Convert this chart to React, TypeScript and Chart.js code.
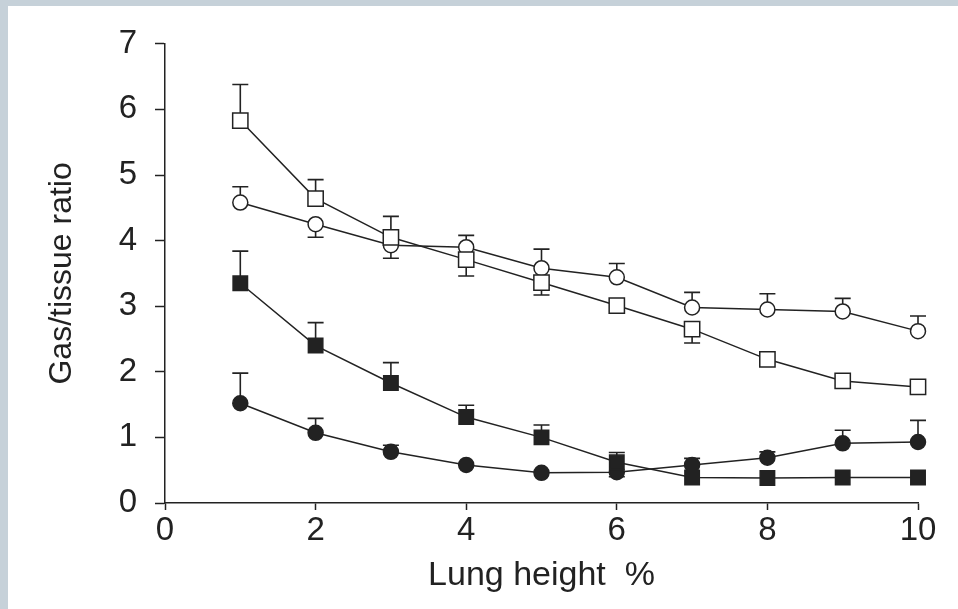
import React, { useEffect, useRef } from "react";
import { Chart, registerables } from "chart.js";

Chart.register(...registerables);

// Lung height (%) positions
const heights = [1, 2, 3, 4, 5, 6, 7, 8, 9, 10];

// Gas/tissue ratio series
const openSquare = [5.83, 4.64, 4.05, 3.71, 3.36, 3.01, 2.65, 2.19, 1.86, 1.77];
const openCircle = [4.58, 4.25, 3.93, 3.9, 3.58, 3.44, 2.98, 2.95, 2.92, 2.62];
const filledSquare = [3.35, 2.4, 1.83, 1.31, 1.0, 0.62, 0.39, 0.38, 0.39, 0.39];
const filledCircle = [1.52, 1.07, 0.78, 0.58, 0.46, 0.47, 0.58, 0.69, 0.91, 0.93];

// Error bar end values (null = no visible bar)
const openSquareErr = [6.38, 4.93, 4.37, 3.46, 3.17, null, 2.44, null, null, null];
const openCircleErr = [4.82, 4.05, 3.73, 4.08, 3.87, 3.65, 3.21, 3.19, 3.12, 2.85];
const filledSquareErr = [3.84, 2.75, 2.14, 1.49, 1.19, 0.77, null, null, null, null];
const filledCircleErr = [1.98, 1.29, 0.88, null, null, 0.4, 0.68, 0.78, 1.11, 1.26];

// Axis ticks
const xTickLabels = ["0", "2", "4", "6", "8", "10"];
const yMin = 0;
const yMax = 7;
const xMin = 0;
const xMax = 10;

const INK = "#222222";
const FONT = "'Liberation Sans', Arial, sans-serif";

const errorBarPlugin = {
  id: "errorBars",
  beforeDatasetsDraw(chart: any) {
    const ctx = chart.ctx;
    const xs = chart.scales.x;
    const ys = chart.scales.y;
    ctx.save();
    ctx.strokeStyle = INK;
    ctx.lineWidth = 1.6;
    chart.data.datasets.forEach((ds: any) => {
      const errs: (number | null)[] = ds.errEnds || [];
      ds.data.forEach((pt: any, i: number) => {
        const e = errs[i];
        if (e === null || e === undefined) return;
        const px = xs.getPixelForValue(pt.x);
        const py = ys.getPixelForValue(pt.y);
        const pe = ys.getPixelForValue(e);
        ctx.beginPath();
        ctx.moveTo(px, py);
        ctx.lineTo(px, pe);
        ctx.moveTo(px - 8, pe);
        ctx.lineTo(px + 8, pe);
        ctx.stroke();
      });
    });
    ctx.restore();
  },
};

function mk(values: number[], errs: (number | null)[], style: string, filled: boolean, radius: number) {
  return {
    data: heights.map((h, i) => ({ x: h, y: values[i] })),
    errEnds: errs,
    borderColor: INK,
    borderWidth: 1.5,
    pointStyle: style,
    pointRadius: radius,
    pointBorderWidth: 1.5,
    pointBorderColor: INK,
    pointBackgroundColor: filled ? INK : "#ffffff",
    showLine: true,
    tension: 0,
    fill: false,
    clip: false,
  };
}

export default function App() {
  const ref = useRef<HTMLCanvasElement | null>(null);

  useEffect(() => {
    if (!ref.current) return;
    const chart = new Chart(ref.current, {
      type: "scatter",
      data: {
        datasets: [
          mk(openSquare, openSquareErr, "rect", false, 10.8),
          mk(openCircle, openCircleErr, "circle", false, 7.5),
          mk(filledSquare, filledSquareErr, "rect", true, 10.2),
          mk(filledCircle, filledCircleErr, "circle", true, 7.5),
        ] as any,
      },
      options: {
        animation: false,
        responsive: false,
        maintainAspectRatio: false,
        layout: { padding: { top: 37, right: 40, bottom: 0, left: 0 } },
        plugins: {
          legend: { display: false },
          tooltip: { enabled: false },
          title: { display: false },
        },
        scales: {
          x: {
            type: "linear",
            min: xMin,
            max: xMax,
            afterFit: (s: any) => {
              s.height = 106;
            },
            ticks: {
              stepSize: 1,
              autoSkip: false,
              maxRotation: 0,
              padding: 1,
              color: INK,
              font: { family: FONT, size: 33 },
              callback: (v: any) => {
                const s = String(v);
                return xTickLabels.includes(s) ? s : null;
              },
            },
            grid: {
              drawOnChartArea: false,
              drawTicks: true,
              tickLength: 7,
              tickWidth: 1.5,
              tickColor: INK,
            },
            border: { display: true, color: INK, width: 1.5 },
            title: {
              display: true,
              text: "Lung height  %",
              color: INK,
              font: { family: FONT, size: 34 },
              padding: { top: 0, bottom: 13 },
            },
          },
          y: {
            type: "linear",
            min: yMin,
            max: yMax,
            afterFit: (s: any) => {
              s.width = 157;
            },
            ticks: {
              stepSize: 1,
              padding: 18,
              color: INK,
              font: { family: FONT, size: 33 },
            },
            grid: {
              drawOnChartArea: false,
              drawTicks: true,
              tickLength: 10,
              tickWidth: 1.5,
              tickColor: INK,
            },
            border: { display: true, color: INK, width: 1.5 },
            title: {
              display: true,
              text: "Gas/tissue ratio",
              color: INK,
              font: { family: FONT, size: 32 },
              padding: { top: 35, bottom: 0 },
            },
          },
        },
      } as any,
      plugins: [errorBarPlugin],
    });
    return () => chart.destroy();
  }, []);

  return (
    <div
      style={{
        position: "fixed",
        left: 0,
        top: 0,
        width: 958,
        height: 609,
        boxSizing: "border-box",
        borderTop: "6px solid #c6d1d9",
        borderLeft: "8px solid #c6d1d9",
        background: "#ffffff",
      }}
    >
      <canvas ref={ref} width={950} height={603} style={{ display: "block", width: 950, height: 603 }} />
    </div>
  );
}
